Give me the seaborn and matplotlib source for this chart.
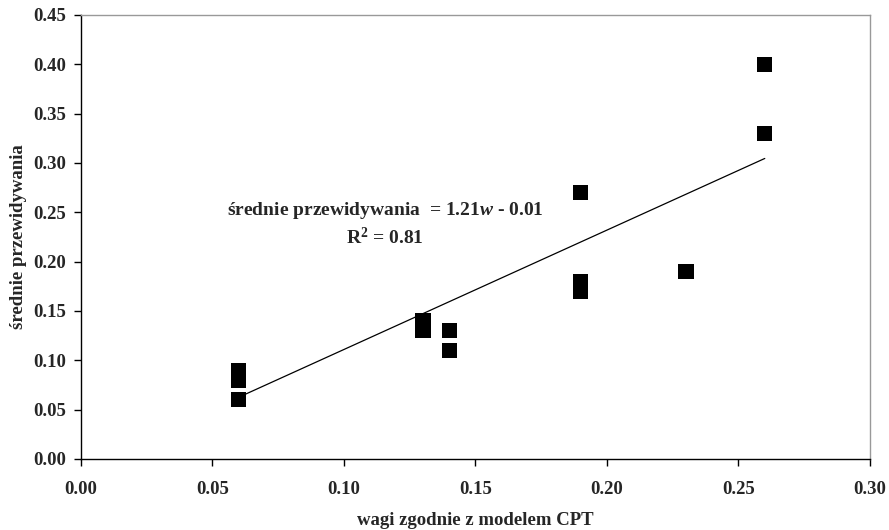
import matplotlib
matplotlib.use("Agg")
import matplotlib.pyplot as plt
import seaborn as sns
import pandas as pd

# Data
wagi = [0.06, 0.06, 0.06, 0.13, 0.13, 0.14, 0.14, 0.19, 0.19, 0.19, 0.23, 0.26, 0.26]
przewidywania = [0.09, 0.08, 0.06, 0.14, 0.13, 0.13, 0.11, 0.27, 0.18, 0.17, 0.19, 0.40, 0.33]
trend_slope = 1.21
trend_intercept = -0.01
x_ticks = [0.00, 0.05, 0.10, 0.15, 0.20, 0.25, 0.30]
y_ticks = [0.00, 0.05, 0.10, 0.15, 0.20, 0.25, 0.30, 0.35, 0.40, 0.45]
x_label = "wagi zgodnie z modelem CPT"
y_label = "średnie przewidywania"
eq_text = "średnie przewidywania  = 1.21$w$ - 0.01"
r2_text = "R$^{2}$ = 0.81"

df = pd.DataFrame({"x": wagi, "y": przewidywania})
x_ends = [min(wagi), max(wagi)]
trend = pd.DataFrame({"x": x_ends, "y": [trend_slope * v + trend_intercept for v in x_ends]})

sns.set_theme(style="white")
plt.rcParams["font.family"] = ["Liberation Serif", "DejaVu Serif"]
plt.rcParams["font.weight"] = "bold"
plt.rcParams["mathtext.fontset"] = "custom"
plt.rcParams["mathtext.rm"] = "Liberation Serif:bold"
plt.rcParams["mathtext.it"] = "Liberation Serif:italic"
plt.rcParams["mathtext.bf"] = "Liberation Serif:bold"

FS = 13.5

fig = plt.figure(figsize=(8.89, 5.30), dpi=100)
ax = fig.add_axes([0.0911, 0.134, 0.8875, 0.8377])

sns.lineplot(data=trend, x="x", y="y", ax=ax, color="black", lw=0.9, zorder=2)
sns.scatterplot(data=df, x="x", y="y", ax=ax, marker="s", s=122, color="black",
                edgecolor="none", zorder=3)

ax.set_xlim(0, 0.30)
ax.set_ylim(0, 0.45)
ax.set_xticks(x_ticks)
ax.set_yticks(y_ticks)
ax.set_xticklabels([f"{v:.2f}" for v in x_ticks], fontsize=FS, fontweight="bold")
ax.set_yticklabels([f"{v:.2f}" for v in y_ticks], fontsize=FS, fontweight="bold")
ax.tick_params(axis="both", direction="out", length=5, width=1, color="black",
               bottom=True, left=True)
ax.tick_params(axis="x", pad=11)
ax.tick_params(axis="y", pad=6)

ax.set_xlabel(x_label, fontsize=FS, fontweight="bold", labelpad=10)
ax.set_ylabel(y_label, fontsize=FS, fontweight="bold", labelpad=4)

for side in ["left", "bottom"]:
    ax.spines[side].set_color("black")
    ax.spines[side].set_linewidth(1)
for side in ["top", "right"]:
    ax.spines[side].set_color("#999999")
    ax.spines[side].set_linewidth(1)
    ax.spines[side].set_visible(True)
ax.grid(False)

ax.text(0.1156, 0.247, eq_text, ha="center", va="baseline", fontsize=14, fontweight="bold")
ax.text(0.1156, 0.2177, r2_text, ha="center", va="baseline", fontsize=14, fontweight="bold")

fig.savefig("out.png", dpi=100)
